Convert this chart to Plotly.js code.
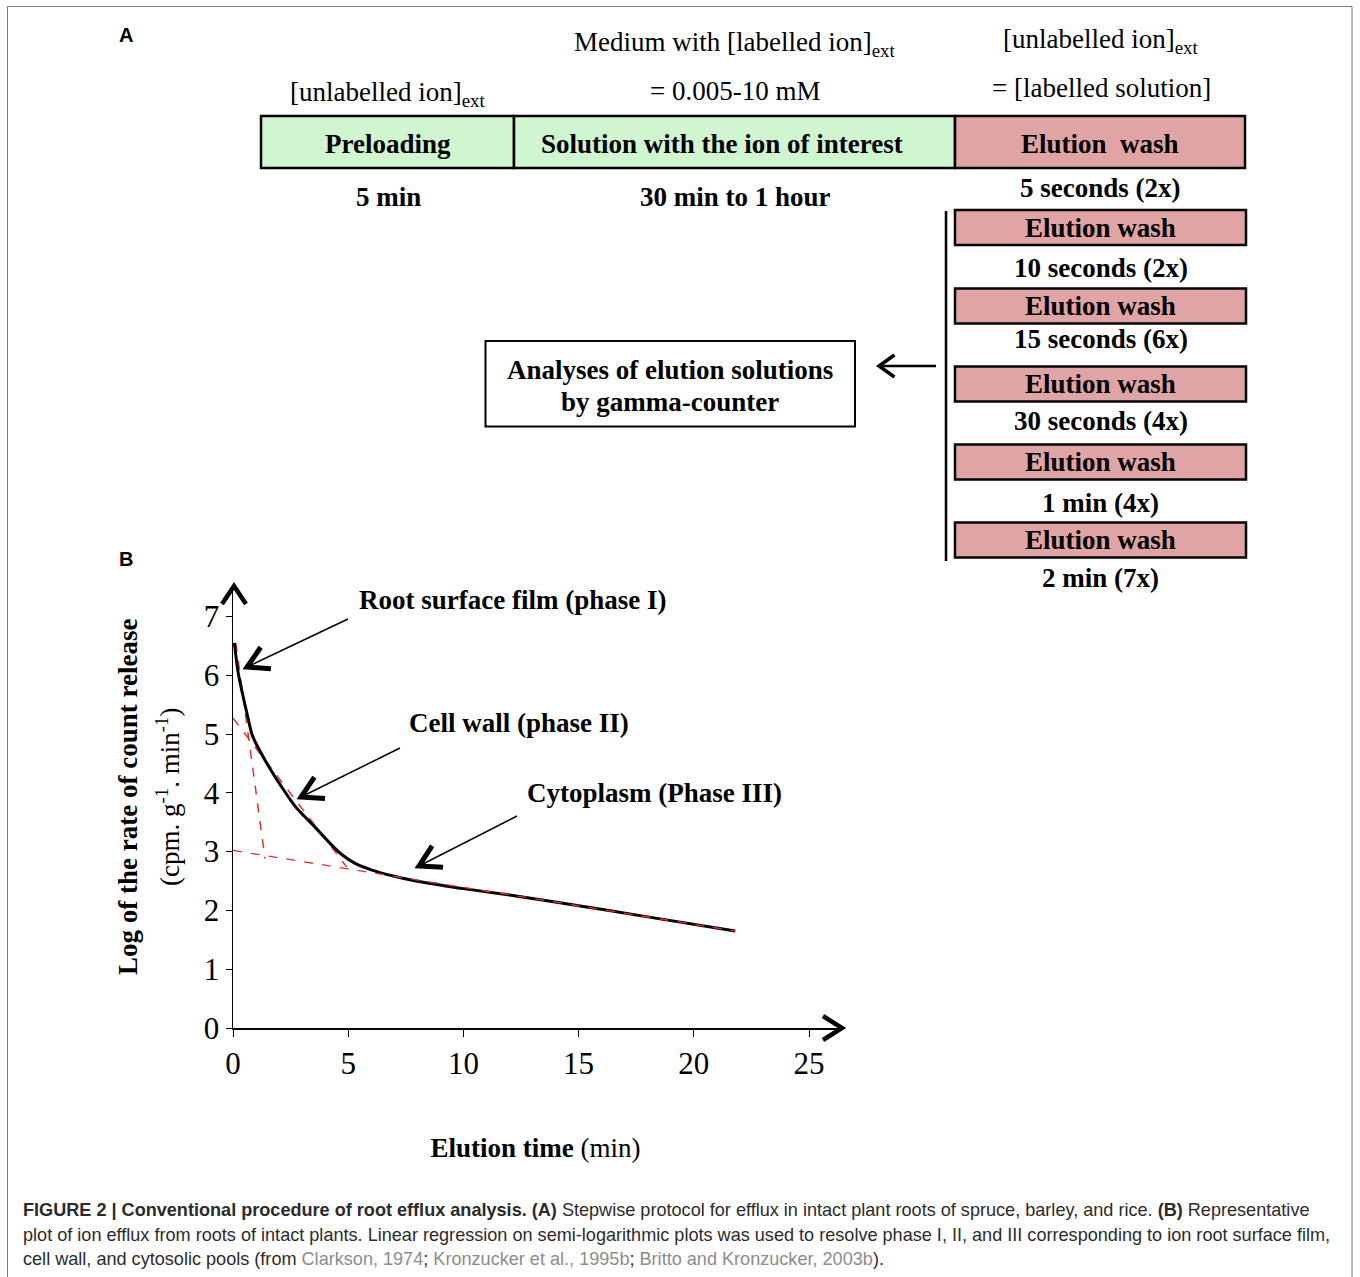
<!DOCTYPE html>
<html>
<head>
<meta charset="utf-8">
<script src="https://cdn.plot.ly/plotly-3.0.1.min.js"></script>
<style>html,body{margin:0;padding:0;background:#fff;}#chart{width:1360px;height:1277px;}</style>
</head>
<body>
<div id="chart"></div>
<script>
// ---------- Data (panel B) ----------
const elutionTime = [0.06, 0.23, 0.45, 0.67, 0.82, 0.97, 1.2, 1.53, 2.11, 2.7, 3.1, 3.55, 4.14, 4.72, 5.3, 6.0, 7.0, 8.5, 10, 12, 15, 18, 21.8];
const logRate     = [6.55, 6.03, 5.62, 5.24, 5.00, 4.86, 4.69, 4.46, 4.10, 3.77, 3.60, 3.42, 3.17, 2.95, 2.80, 2.69, 2.58, 2.46, 2.37, 2.26, 2.08, 1.89, 1.65];
const phaseI_x   = [0.12, 1.39];
const phaseI_y   = [6.55, 2.88];
const phaseII_x  = [0, 4.93];
const phaseII_y  = [5.27, 2.74];
const phaseIII_x = [0, 21.8];
const phaseIII_y = [3.02, 1.65];
const xTicks = [0, 5, 10, 15, 20, 25];
const yTicks = [0, 1, 2, 3, 4, 5, 6, 7];
const phaseLabels = ["Root surface film (phase I)", "Cell wall (phase II)", "Cytoplasm (Phase III)"];

// ---------- Text (panel A) ----------
const stageLabels    = ["Preloading", "Solution with the ion of interest", "Elution\u00a0 wash"];
const stageDurations = ["5 min", "30 min to 1 hour", "5 seconds (2x)"];
const mediumLine1    = ["", "Medium with [labelled ion]<sub>ext</sub>", "[unlabelled ion]<sub>ext</sub>"];
const mediumLine2    = ["[unlabelled ion]<sub>ext</sub>", "= 0.005-10 mM", "= [labelled solution]"];
const washLabel      = "Elution wash";
const washDurations  = ["10 seconds (2x)", "15 seconds (6x)", "30 seconds (4x)", "1 min (4x)", "2 min (7x)"];
const analysisLines  = ["Analyses of elution solutions", "by gamma-counter"];

const W = 1360, H = 1277;
const px = x => x / W;
const py = y => 1 - y / H;
const SERIF = "Liberation Serif, 'Times New Roman', Times, serif";
const SANS = "Liberation Sans, Arial, Helvetica, sans-serif";
const GREEN = "#d0f6d0";
const ROSE = "#e0a4a4";

const shapes = [];
const annotations = [];

function txt(x, y, text, opt) {
  opt = opt || {};
  annotations.push({
    xref: 'paper', yref: 'paper', x: px(x), y: py(y), text: text, showarrow: false,
    xanchor: opt.xanchor || 'center', yanchor: opt.yanchor || 'middle',
    textangle: opt.angle || 0, align: opt.align || 'center',
    font: { family: opt.family || SERIF, size: opt.size || 27, color: opt.color || '#000' }
  });
}
function rect(x0, y0, x1, y1, fill, w) {
  shapes.push({ type: 'rect', xref: 'paper', yref: 'paper', x0: px(x0), x1: px(x1), y0: py(y0), y1: py(y1),
    fillcolor: fill, line: { color: '#000', width: w }, layer: 'below' });
}
function pline(x0, y0, x1, y1, w, color) {
  shapes.push({ type: 'line', xref: 'paper', yref: 'paper', x0: px(x0), y0: py(y0), x1: px(x1), y1: py(y1),
    line: { color: color || '#000', width: w } });
}
function chevron(pts, w) {
  const p = pts.map((q, i) => (i ? 'L ' : 'M ') + px(q[0]) + ' ' + py(q[1])).join(' ');
  shapes.push({ type: 'path', xref: 'paper', yref: 'paper', path: p, line: { color: '#000', width: w } });
}
function arrow(tail, tip, headLen, headAng, lineW, headW) {
  pline(tail[0], tail[1], tip[0], tip[1], lineW);
  const dx = tail[0] - tip[0], dy = tail[1] - tip[1], L = Math.hypot(dx, dy);
  const ux = dx / L, uy = dy / L;
  const rot = a => [ux * Math.cos(a) - uy * Math.sin(a), ux * Math.sin(a) + uy * Math.cos(a)];
  const r1 = rot(headAng), r2 = rot(-headAng);
  chevron([[tip[0] + headLen * r1[0], tip[1] + headLen * r1[1]], tip, [tip[0] + headLen * r2[0], tip[1] + headLen * r2[1]]], headW);
}

// outer frame
shapes.push({ type: 'rect', xref: 'paper', yref: 'paper', x0: px(7.5), x1: px(1352), y0: py(6.5), y1: py(1300),
  line: { color: '#7a7a7a', width: 1 }, fillcolor: 'rgba(0,0,0,0)' });

// panel letters
txt(126, 35, "<b>A</b>", { family: SANS, size: 20 });
txt(126, 559, "<b>B</b>", { family: SANS, size: 20 });

// ---------- Panel A ----------
const stageEdges = [261, 514, 955, 1245];
const stageTextX = [388, 722, 1100];
const mediumX = [388, 735, 1101];
const medium1Y = [0, 44, 41];
const medium2Y = [94, 91, 88];
const stageFill = [GREEN, GREEN, ROSE];
for (let i = 0; i < 3; i++) {
  rect(stageEdges[i], 116, stageEdges[i + 1], 168, stageFill[i], 2.5);
  txt(stageTextX[i], 144, "<b>" + stageLabels[i] + "</b>");
  if (mediumLine1[i]) txt(mediumX[i], medium1Y[i], mediumLine1[i]);
  txt(mediumX[i], medium2Y[i], mediumLine2[i]);
}
txt(388, 197, "<b>" + stageDurations[0] + "</b>");
txt(735, 197, "<b>" + stageDurations[1] + "</b>");
txt(1100, 188, "<b>" + stageDurations[2] + "</b>");

const washTops = [210, 288.5, 366.5, 444.5, 522.5];
const washDurY = [268, 339, 421, 503, 578];
for (let i = 0; i < washTops.length; i++) {
  rect(955, washTops[i], 1246, washTops[i] + 35, ROSE, 2.5);
  txt(1100.5, washTops[i] + 17.5, "<b>" + washLabel + "</b>");
  txt(1100.5, washDurY[i], "<b>" + washDurations[i] + "</b>");
}
pline(946, 211, 946, 561, 2.5);
arrow([936, 366], [879, 366], 19, 0.62, 2.5, 3.5);
rect(485.5, 341, 855, 426.5, '#ffffff', 2);
txt(670, 370, "<b>" + analysisLines[0] + "</b>", { size: 27 });
txt(670, 402, "<b>" + analysisLines[1] + "</b>", { size: 27 });

// ---------- Panel B ----------
const xPxPerUnit = 23.04, yPxPerUnit = 58.8;
const x0px = 233, x1px = 838, y0px = 1028, y1px = 590;

// y title
txt(128, 797, "<b>Log of the rate of count release</b>", { angle: -90 });
txt(168, 797, "(cpm. g<sup>-1</sup>. min<sup>-1</sup>)", { angle: -90 });

// axis arrowheads
chevron([[222, 604], [234, 586], [246, 604]], 4.5);
chevron([[823, 1016], [842, 1028], [823, 1040]], 4.5);

// phase labels with arrows
txt(512, 600, "<b>" + phaseLabels[0] + "</b>");
txt(519, 723, "<b>" + phaseLabels[1] + "</b>");
txt(654, 793, "<b>" + phaseLabels[2] + "</b>");
arrow([348, 619], [247, 667], 24, 0.52, 1.5, 5);
arrow([400, 748], [301, 797], 24, 0.52, 1.5, 5);
arrow([517, 816], [419, 866], 24, 0.52, 1.5, 5);

// caption
const capY = [1210, 1235, 1259];
const refGray = "#8c8c8c";
const capLines = [
  "<b>FIGURE 2 | Conventional procedure of root efflux analysis. (A)</b> Stepwise protocol for efflux in intact plant roots of spruce, barley, and rice. <b>(B)</b> Representative",
  "plot of ion efflux from roots of intact plants. Linear regression on semi-logarithmic plots was used to resolve phase I, II, and III corresponding to ion root surface film,",
  "cell wall, and cytosolic pools (from <span style='color:" + refGray + "'>Clarkson, 1974</span>; <span style='color:" + refGray + "'>Kronzucker et al., 1995b</span>; <span style='color:" + refGray + "'>Britto and Kronzucker, 2003b</span>)."
];
for (let i = 0; i < 3; i++) txt(21, capY[i], capLines[i], { family: SANS, size: 18.1, color: '#2b2b2b', xanchor: 'left', align: 'left' });

const traces = [
  { x: phaseI_x, y: phaseI_y, mode: 'lines', line: { color: '#e8302a', width: 1.5, dash: 'dash' }, hoverinfo: 'skip' },
  { x: phaseII_x, y: phaseII_y, mode: 'lines', line: { color: '#e8302a', width: 1.5, dash: 'dash' }, hoverinfo: 'skip' },
  { x: elutionTime, y: logRate, mode: 'lines', line: { color: '#000', width: 3, shape: 'spline', smoothing: 1 }, hoverinfo: 'skip' },
  { x: phaseIII_x, y: phaseIII_y, mode: 'lines', line: { color: '#e8302a', width: 1.3, dash: 'dash' }, hoverinfo: 'skip' }
];

const layout = {
  width: W, height: H,
  margin: { l: 0, r: 0, t: 0, b: 0 },
  paper_bgcolor: '#fff', plot_bgcolor: 'rgba(0,0,0,0)',
  showlegend: false,
  xaxis: {
    domain: [px(x0px), px(x1px)], range: [0, (x1px - x0px) / xPxPerUnit],
    tickvals: xTicks, ticktext: xTicks.map(String), ticks: 'outside', ticklen: 7, tickwidth: 1, tickcolor: '#000',
    showline: true, linecolor: '#000', linewidth: 1.5, showgrid: false, zeroline: false,
    tickfont: { family: SERIF, size: 31, color: '#000' },
    title: { text: "<b>Elution time</b> (min)", font: { family: SERIF, size: 27, color: '#000' }, standoff: 58 },
    automargin: false
  },
  yaxis: {
    domain: [py(y0px), py(y1px)], range: [0, (y0px - y1px) / yPxPerUnit],
    tickvals: yTicks, ticktext: yTicks.map(String), ticks: 'outside', ticklen: 6, tickwidth: 1, tickcolor: '#000',
    showline: true, linecolor: '#000', linewidth: 1.5, showgrid: false, zeroline: false,
    tickfont: { family: SERIF, size: 31, color: '#000' },
    automargin: false
  },
  shapes: shapes,
  annotations: annotations
};

Plotly.newPlot('chart', traces, layout, { staticPlot: true, displayModeBar: false });
</script>
</body>
</html>
